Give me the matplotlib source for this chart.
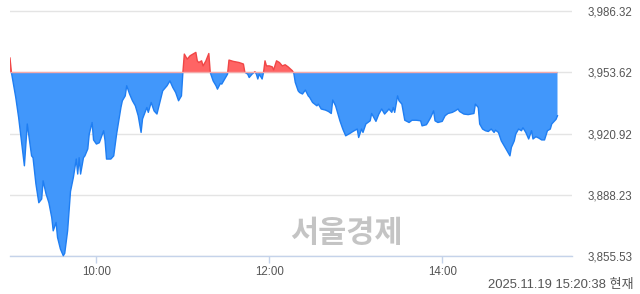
import numpy as np
import matplotlib.pyplot as plt
from matplotlib.patches import Rectangle

# intraday index values
times = ["09:00", "09:01", "09:04", "09:06", "09:10", "09:12", "09:15", "09:16", "09:18", "09:20",
         "09:22", "09:23", "09:25", "09:27", "09:29", "09:30", "09:32", "09:33", "09:35", "09:37",
         "09:38", "09:40", "09:42", "09:44", "09:46", "09:47", "09:48", "09:49", "09:51", "09:52",
         "09:54", "09:55", "09:57", "09:58", "10:00", "10:02", "10:05", "10:06", "10:07", "10:10",
         "10:12", "10:14", "10:17", "10:18", "10:20", "10:21", "10:23", "10:25", "10:27", "10:29",
         "10:31", "10:32", "10:35", "10:36", "10:38", "10:40", "10:42", "10:44", "10:46", "10:49",
         "10:51", "10:53", "10:55", "10:57", "10:59", "11:00", "11:01", "11:03", "11:05", "11:07",
         "11:09", "11:10", "11:11", "11:13", "11:14", "11:16", "11:18", "11:19", "11:21", "11:23",
         "11:24", "11:26", "11:27", "11:29", "11:31", "11:32", "11:35", "11:39", "11:42", "11:43",
         "11:45", "11:46", "11:48", "11:50", "11:51", "11:52", "11:53", "11:55", "11:56", "11:57",
         "11:58", "12:00", "12:02", "12:03", "12:05", "12:07", "12:09", "12:11", "12:13", "12:16",
         "12:17", "12:18", "12:20", "12:21", "12:23", "12:25", "12:27", "12:28", "12:30", "12:33",
         "12:34", "12:36", "12:39", "12:41", "12:43", "12:44", "12:46", "12:49", "12:51", "12:53",
         "12:56", "12:58", "13:01", "13:02", "13:04", "13:05", "13:07", "13:10", "13:11", "13:14",
         "13:16", "13:18", "13:20", "13:22", "13:23", "13:25", "13:26", "13:27", "13:29", "13:30",
         "13:32", "13:34", "13:37", "13:39", "13:42", "13:45", "13:46", "13:49", "13:50", "13:52",
         "13:54", "13:55", "13:57", "14:00", "14:02", "14:04", "14:07", "14:09", "14:11", "14:12",
         "14:15", "14:18", "14:22", "14:23", "14:25", "14:26", "14:28", "14:30", "14:32", "14:34",
         "14:36", "14:37", "14:39", "14:41", "14:43", "14:45", "14:47", "14:48", "14:50", "14:51",
         "14:53", "14:55", "14:56", "14:58", "15:00", "15:02", "15:03", "15:05", "15:07", "15:09",
         "15:11", "15:13", "15:15", "15:16", "15:18", "15:19", "15:20"]
values = [3961.2, 3953.5, 3940.2, 3929.5, 3903.7, 3926.0, 3909.0, 3908.0, 3894.0, 3884.0,
          3886.0, 3895.7, 3888.8, 3884.0, 3876.0, 3869.0, 3873.5, 3865.5, 3859.3, 3855.7,
          3857.0, 3869.0, 3890.0, 3897.5, 3907.3, 3899.3, 3908.0, 3899.3, 3908.0, 3909.0,
          3912.7, 3920.6, 3926.8, 3917.5, 3915.3, 3916.0, 3922.4, 3917.0, 3907.3, 3907.3,
          3909.0, 3920.6, 3934.8, 3938.4, 3941.0, 3946.4, 3942.0, 3938.4, 3935.7, 3930.4,
          3921.5, 3928.7, 3934.8, 3932.2, 3937.5, 3933.0, 3931.3, 3937.5, 3943.7, 3946.4,
          3949.0, 3945.5, 3942.8, 3938.4, 3941.0, 3953.5, 3963.3, 3960.6, 3962.4, 3963.3,
          3964.2, 3959.7, 3958.8, 3959.7, 3957.0, 3959.7, 3963.6, 3953.5, 3949.0, 3946.4,
          3944.6, 3947.6, 3947.3, 3950.0, 3952.6, 3960.1, 3959.4, 3958.8, 3958.0, 3953.6,
          3952.6, 3950.8, 3952.6, 3953.9, 3952.6, 3950.0, 3952.6, 3950.0, 3953.6, 3959.7,
          3957.0, 3957.0, 3956.5, 3954.9, 3959.7, 3958.8, 3957.0, 3957.6, 3956.5, 3954.4,
          3953.0, 3948.2, 3943.7, 3942.8, 3942.0, 3944.1, 3941.0, 3940.2, 3937.5, 3935.7,
          3936.6, 3934.0, 3933.4, 3932.7, 3931.6, 3938.8, 3935.7, 3927.7, 3923.3, 3919.7,
          3921.0, 3922.0, 3923.3, 3918.8, 3923.3, 3921.5, 3926.0, 3927.7, 3931.6, 3927.4,
          3931.3, 3934.0, 3931.3, 3933.0, 3934.0, 3932.2, 3934.8, 3932.2, 3941.0, 3938.4,
          3936.6, 3928.0, 3926.8, 3928.0, 3928.0, 3927.7, 3925.0, 3925.6, 3926.8, 3929.5,
          3933.0, 3927.7, 3926.8, 3927.4, 3930.4, 3931.6, 3932.2, 3933.0, 3934.0, 3932.7,
          3931.3, 3931.0, 3931.6, 3936.6, 3934.8, 3926.0, 3923.3, 3922.4, 3922.0, 3923.3,
          3921.5, 3922.7, 3921.5, 3917.0, 3914.4, 3911.7, 3909.0, 3913.5, 3917.0, 3920.6,
          3923.3, 3922.4, 3924.0, 3921.5, 3918.0, 3922.4, 3918.0, 3919.2, 3918.5, 3917.5,
          3917.5, 3922.4, 3923.3, 3926.0, 3927.7, 3928.5, 3930.4]
prev_close = 3953.62
y_ticks = [3855.53, 3888.23, 3920.92, 3953.62, 3986.32]
x_tick_labels = ["10:00", "12:00", "14:00"]
stamp = "2025.11.19 15:20:38 현재"
watermark = "서울경제"


def to_min(s):
    h, m = s.split(":")
    return (int(h) - 9) * 60 + int(m)


t = np.array([to_min(s) for s in times], dtype=float)
v = np.array(values)

plt.rcParams['font.family'] = ['Liberation Sans', 'Noto Sans CJK KR']

fig = plt.figure(figsize=(6.4, 2.94), dpi=100)
ax = fig.add_axes([0.0156, 0.129, 0.878, 0.837])

blue_fill = "#4197fb"
blue_line = "#1f7ef2"
red_fill = "#ff6464"
red_line = "#f04646"

ax.fill_between(t, v, prev_close, where=v <= prev_close, interpolate=True,
                color=blue_fill, linewidth=0, zorder=2)
ax.fill_between(t, v, prev_close, where=v >= prev_close, interpolate=True,
                color=red_fill, linewidth=0, zorder=2)

lo = ax.plot(t, v, color=blue_line, lw=1.0, zorder=3)[0]
hi = ax.plot(t, v, color=red_line, lw=1.0, zorder=3)[0]
lo.set_clip_path(Rectangle((0, 3800), 400, prev_close - 3800, transform=ax.transData))
hi.set_clip_path(Rectangle((0, prev_close), 400, 100, transform=ax.transData))
ax.hlines(prev_close, t[0], t[-1], color="#f4aaaa", lw=1.0, zorder=4)

ax.set_xlim(0, 390)
ax.set_ylim(y_ticks[0], y_ticks[-1] + 0.5)

ax.set_yticks(y_ticks)
ax.set_yticklabels([f"{y:,.2f}" for y in y_ticks])
ax.yaxis.tick_right()
ax.tick_params(axis="y", length=0, pad=11.5, labelsize=8.3, labelcolor="#555555")
ax.grid(axis="y", color="#e4e4e4", lw=1.0, zorder=0)

ax.set_xticks([to_min(s) for s in x_tick_labels])
ax.set_xticklabels(x_tick_labels)
ax.tick_params(axis="x", length=5, width=1, color="#c5d3ea", pad=2,
               labelsize=8.3, labelcolor="#555555")

for side in ["top", "left", "right"]:
    ax.spines[side].set_visible(False)
ax.spines["bottom"].set_color("#c5d3ea")
ax.spines["bottom"].set_linewidth(1.0)
ax.set_axisbelow(True)

fig.text(0.542, 0.207, watermark, fontsize=22, fontweight="bold", color="#c4c4c4",
         family=["Noto Sans CJK KR", "DejaVu Sans"], ha="center", va="center")
fig.text(0.99, 0.03, stamp, fontsize=9.4, color="#555555", ha="right", va="center")

fig.savefig("out.png", dpi=100)
